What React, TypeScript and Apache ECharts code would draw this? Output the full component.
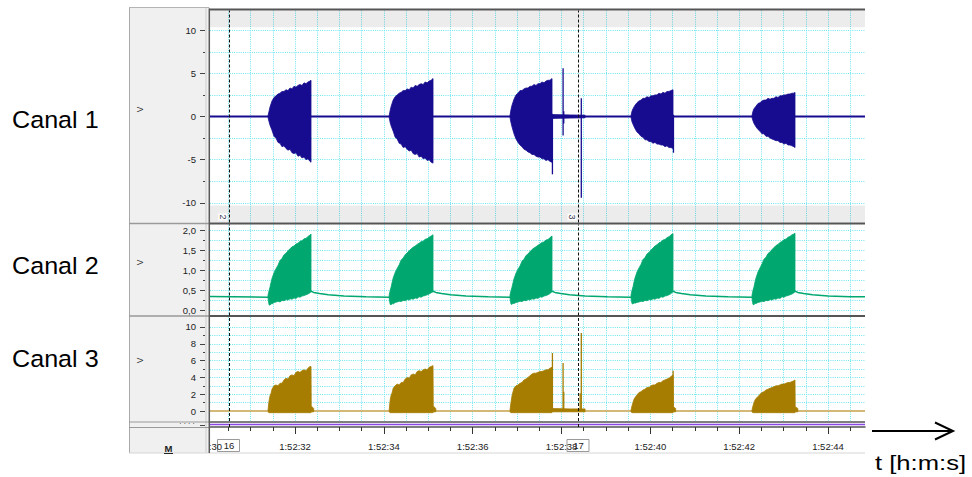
import React, { useEffect, useRef } from "react";
import * as echarts from "echarts";

// Time is counted in seconds after 1:52:00
const X_MIN = 30.086;
const X_MAX = 44.832;

const timeGridTicks = [
  30.5, 31, 31.5, 32, 32.5, 33, 33.5, 34, 34.5, 35, 35.5, 36, 36.5, 37, 37.5,
  38, 38.5, 39, 39.5, 40, 40.5, 41, 41.5, 42, 42.5, 43, 43.5, 44, 44.5,
];
const timeLabelTicks = [32, 34, 36, 38, 40, 42, 44];
const hiddenTimeLabel = 30;

// Event markers (dashed lines)
const markerTimes = [30.514, 38.382];
const markerNumbers = ["2", "3"];
const markerSeconds = ["16", "17"];

// ---- Canal 1 (V) ----
const c1Range = [-12.28, 12.28];
const c1GridValues = [-10, -7.5, -5, -2.5, 0, 2.5, 5, 7.5, 10];
const c1LabelValues = [-10, -5, 0, 5, 10];
const c1OutOfRange = [
  [10.35, 12.28],
  [-12.28, -10.3],
];
const c1Baseline = [
  [X_MIN, 0],
  [X_MAX, 0],
];
// bursts as [t, low, high]
const c1Burst1 = [
  [31.392, -0.1, 0.1], [31.415, -0.6, 0.6], [31.437, -1.0, 1.1], [31.482, -1.6, 1.8],
  [31.527, -2.3, 2.2], [31.572, -2.5, 2.4], [31.617, -3.0, 2.6], [31.662, -3.1, 2.7],
  [31.707, -3.5, 2.9], [31.752, -3.4, 2.9], [31.797, -3.7, 3.1], [31.842, -3.9, 3.0],
  [31.887, -3.8, 3.3], [31.932, -4.2, 3.2], [31.977, -4.3, 3.5], [32.022, -4.2, 3.4],
  [32.067, -4.6, 3.6], [32.112, -4.5, 3.7], [32.157, -4.8, 3.6], [32.202, -4.7, 3.9],
  [32.247, -5.0, 3.8], [32.292, -4.9, 4.0], [32.337, -5.2, 4.1], [32.36, -5.3, 4.2],
];
const c1Burst2 = [
  [34.12, -0.1, 0.1], [34.142, -0.7, 0.7], [34.165, -1.1, 1.2], [34.21, -1.7, 1.9],
  [34.255, -2.4, 2.3], [34.3, -2.6, 2.5], [34.345, -3.1, 2.7], [34.39, -3.2, 2.8],
  [34.435, -3.6, 3.0], [34.48, -3.5, 3.0], [34.525, -3.8, 3.2], [34.57, -4.0, 3.1],
  [34.615, -3.9, 3.4], [34.66, -4.3, 3.3], [34.705, -4.4, 3.6], [34.75, -4.3, 3.5],
  [34.795, -4.7, 3.7], [34.84, -4.6, 3.8], [34.885, -4.9, 3.7], [34.93, -4.8, 4.0],
  [34.975, -5.1, 3.9], [35.02, -5.0, 4.1], [35.065, -5.3, 4.2], [35.107, -5.4, 4.4],
];
const c1Burst3 = [
  [36.84, -0.1, 0.1], [36.862, -0.7, 0.8], [36.885, -1.2, 1.3], [36.93, -2.0, 2.0],
  [36.975, -2.6, 2.5], [37.02, -3.0, 2.7], [37.065, -3.3, 3.0], [37.11, -3.5, 3.0],
  [37.155, -3.8, 3.2], [37.2, -3.9, 3.3], [37.245, -4.1, 3.3], [37.29, -4.2, 3.5],
  [37.335, -4.4, 3.5], [37.38, -4.4, 3.7], [37.425, -4.6, 3.6], [37.47, -4.7, 3.8],
  [37.515, -4.7, 3.8], [37.56, -4.9, 4.0], [37.605, -4.9, 3.9], [37.65, -5.1, 4.1],
  [37.695, -5.0, 4.2], [37.74, -5.2, 4.2], [37.786, -5.3, 4.4],
];
const c1Burst4 = [
  [39.564, -0.1, 0.1], [39.586, -0.6, 0.6], [39.609, -0.9, 0.9], [39.654, -1.4, 1.3],
  [39.699, -1.8, 1.6], [39.744, -2.0, 1.8], [39.789, -2.3, 1.9], [39.834, -2.4, 2.1],
  [39.879, -2.7, 2.1], [39.924, -2.7, 2.3], [39.969, -2.9, 2.2], [40.014, -2.9, 2.4],
  [40.059, -3.1, 2.4], [40.104, -3.0, 2.5], [40.149, -3.2, 2.5], [40.194, -3.2, 2.7],
  [40.239, -3.3, 2.6], [40.284, -3.3, 2.8], [40.329, -3.5, 2.7], [40.374, -3.4, 2.9],
  [40.419, -3.6, 2.9], [40.464, -3.6, 3.0], [40.51, -3.7, 3.1],
];
const c1Burst5 = [
  [42.288, -0.1, 0.1], [42.31, -0.5, 0.6], [42.333, -0.8, 0.9], [42.378, -1.2, 1.2],
  [42.423, -1.5, 1.5], [42.468, -1.7, 1.6], [42.513, -2.0, 1.8], [42.558, -2.0, 1.9],
  [42.603, -2.3, 1.9], [42.648, -2.3, 2.1], [42.693, -2.5, 2.0], [42.738, -2.6, 2.1],
  [42.783, -2.7, 2.1], [42.828, -2.8, 2.3], [42.873, -2.8, 2.2], [42.918, -3.0, 2.4],
  [42.963, -3.0, 2.4], [43.008, -3.2, 2.5], [43.053, -3.1, 2.5], [43.098, -3.3, 2.6],
  [43.143, -3.3, 2.6], [43.188, -3.4, 2.7], [43.233, -3.5, 2.7], [43.256, -3.6, 2.8],
];
const c1Ripple = [
  [37.8, -0.22, 0.22],
  [38.2, -0.18, 0.18],
  [38.53, -0.15, 0.15],
];
// single transients as [t, low, high]
const c1Spikes = [
  [37.795, -6.7, 0.3],
  [38.035, -2.2, 5.6],
  [38.05, -0.8, 0.6],
  [38.445, -9.4, 2.1],
  [40.52, -4.2, 0.2],
];

// ---- Canal 2 (V) ----
const c2Range = [-0.1375, 2.1375];
const c2GridValues = [0, 0.25, 0.5, 0.75, 1, 1.25, 1.5, 1.75, 2];
const c2LabelValues = [0, 0.5, 1, 1.5, 2];
const c2Baseline = [
  [X_MIN, 0.34], [31.392, 0.32],
  [32.36, 0.47], [32.42, 0.44], [32.55, 0.41], [32.75, 0.38], [33.1, 0.35], [33.6, 0.33], [34.12, 0.32],
  [35.107, 0.47], [35.17, 0.44], [35.3, 0.41], [35.5, 0.38], [35.85, 0.35], [36.35, 0.33], [36.84, 0.32],
  [37.786, 0.47], [37.85, 0.44], [37.98, 0.41], [38.18, 0.38], [38.53, 0.35], [39.03, 0.33], [39.564, 0.32],
  [40.51, 0.47], [40.57, 0.44], [40.7, 0.41], [40.9, 0.38], [41.25, 0.35], [41.75, 0.33], [42.288, 0.32],
  [43.256, 0.47], [43.32, 0.44], [43.45, 0.41], [43.65, 0.38], [44.0, 0.35], [44.5, 0.33], [X_MAX, 0.33],
];
const c2Burst1 = [
  [31.392, 0.3, 0.37], [31.415, 0.13, 0.48], [31.437, 0.12, 0.57], [31.46, 0.16, 0.69],
  [31.482, 0.15, 0.79], [31.527, 0.19, 0.93], [31.572, 0.2, 1.03], [31.617, 0.22, 1.12],
  [31.662, 0.2, 1.24], [31.707, 0.24, 1.29], [31.752, 0.23, 1.38], [31.797, 0.26, 1.42],
  [31.842, 0.25, 1.48], [31.887, 0.28, 1.53], [31.932, 0.27, 1.58], [31.977, 0.3, 1.6],
  [32.022, 0.29, 1.65], [32.067, 0.33, 1.67], [32.112, 0.32, 1.72], [32.157, 0.35, 1.73],
  [32.202, 0.36, 1.78], [32.247, 0.38, 1.79], [32.292, 0.4, 1.84], [32.337, 0.43, 1.87],
  [32.36, 0.46, 1.9],
];
const c2Burst2 = [
  [34.12, 0.3, 0.37], [34.142, 0.14, 0.49], [34.165, 0.13, 0.58], [34.188, 0.16, 0.7],
  [34.21, 0.15, 0.8], [34.255, 0.19, 0.94], [34.3, 0.2, 1.04], [34.345, 0.22, 1.13],
  [34.39, 0.21, 1.25], [34.435, 0.24, 1.3], [34.48, 0.23, 1.38], [34.525, 0.26, 1.43],
  [34.57, 0.25, 1.48], [34.615, 0.28, 1.53], [34.66, 0.27, 1.57], [34.705, 0.3, 1.6],
  [34.75, 0.29, 1.64], [34.795, 0.33, 1.67], [34.84, 0.32, 1.71], [34.885, 0.35, 1.72],
  [34.93, 0.36, 1.77], [34.975, 0.38, 1.78], [35.02, 0.4, 1.82], [35.065, 0.43, 1.85],
  [35.107, 0.46, 1.88],
];
const c2Burst3 = [
  [36.84, 0.3, 0.37], [36.862, 0.15, 0.48], [36.885, 0.14, 0.57], [36.908, 0.17, 0.68],
  [36.93, 0.16, 0.78], [36.975, 0.19, 0.92], [37.02, 0.2, 1.02], [37.065, 0.22, 1.1],
  [37.11, 0.21, 1.22], [37.155, 0.24, 1.27], [37.2, 0.23, 1.36], [37.245, 0.26, 1.4],
  [37.29, 0.25, 1.46], [37.335, 0.28, 1.51], [37.38, 0.27, 1.55], [37.425, 0.3, 1.58],
  [37.47, 0.29, 1.62], [37.515, 0.33, 1.65], [37.56, 0.32, 1.69], [37.605, 0.35, 1.7],
  [37.65, 0.36, 1.75], [37.695, 0.38, 1.76], [37.74, 0.41, 1.81], [37.786, 0.46, 1.85],
];
const c2Burst4 = [
  [39.564, 0.3, 0.37], [39.586, 0.16, 0.49], [39.609, 0.15, 0.58], [39.632, 0.18, 0.7],
  [39.654, 0.17, 0.8], [39.699, 0.19, 0.95], [39.744, 0.2, 1.05], [39.789, 0.22, 1.14],
  [39.834, 0.21, 1.26], [39.879, 0.24, 1.31], [39.924, 0.23, 1.4], [39.969, 0.26, 1.44],
  [40.014, 0.25, 1.5], [40.059, 0.28, 1.55], [40.104, 0.27, 1.6], [40.149, 0.3, 1.63],
  [40.194, 0.29, 1.68], [40.239, 0.33, 1.7], [40.284, 0.32, 1.75], [40.329, 0.35, 1.76],
  [40.374, 0.36, 1.81], [40.419, 0.38, 1.83], [40.464, 0.41, 1.88], [40.51, 0.46, 1.91],
];
const c2Burst5 = [
  [42.288, 0.3, 0.37], [42.31, 0.14, 0.49], [42.333, 0.13, 0.58], [42.356, 0.17, 0.7],
  [42.378, 0.16, 0.8], [42.423, 0.19, 0.95], [42.468, 0.2, 1.05], [42.513, 0.22, 1.15],
  [42.558, 0.21, 1.27], [42.603, 0.24, 1.32], [42.648, 0.23, 1.41], [42.693, 0.26, 1.45],
  [42.738, 0.25, 1.51], [42.783, 0.28, 1.56], [42.828, 0.27, 1.61], [42.873, 0.3, 1.64],
  [42.918, 0.29, 1.69], [42.963, 0.33, 1.71], [43.008, 0.32, 1.76], [43.053, 0.35, 1.77],
  [43.098, 0.36, 1.82], [43.143, 0.38, 1.84], [43.188, 0.4, 1.88], [43.233, 0.43, 1.9],
  [43.256, 0.46, 1.92],
];

// ---- Canal 3 (V) ----
const c3Range = [-1.19, 11.19];
const c3GridValues = [0, 1, 2, 3, 4, 5, 6, 7, 8, 9, 10];
const c3LabelValues = [0, 2, 4, 6, 8, 10];
const c3Baseline = [
  [X_MIN, 0],
  [X_MAX, 0],
];
const c3Burst1 = [
  [31.392, -0.1, 0.1], [31.415, -0.2, 1.2], [31.437, -0.2, 1.8], [31.46, -0.2, 2.1],
  [31.482, -0.2, 2.6], [31.527, -0.2, 3.0], [31.572, -0.2, 3.1], [31.617, -0.2, 3.0],
  [31.662, -0.2, 3.3], [31.707, -0.2, 3.3], [31.752, -0.2, 3.7], [31.797, -0.2, 3.9],
  [31.842, -0.2, 3.8], [31.887, -0.2, 4.2], [31.932, -0.2, 4.3], [31.977, -0.2, 4.2],
  [32.022, -0.2, 4.6], [32.067, -0.2, 4.7], [32.112, -0.2, 4.6], [32.157, -0.2, 4.8],
  [32.202, -0.2, 4.9], [32.247, -0.2, 4.8], [32.292, -0.2, 5.1], [32.337, -0.2, 5.3],
  [32.36, -0.2, 5.3], [32.365, -0.1, 0.6], [32.42, -0.1, 0.3],
];
const c3Burst2 = [
  [34.12, -0.1, 0.1], [34.142, -0.2, 1.3], [34.165, -0.2, 1.9], [34.188, -0.2, 2.2],
  [34.21, -0.2, 2.7], [34.255, -0.2, 3.0], [34.3, -0.2, 3.2], [34.345, -0.2, 3.1],
  [34.39, -0.2, 3.4], [34.435, -0.2, 3.4], [34.48, -0.2, 3.8], [34.525, -0.2, 4.0],
  [34.57, -0.2, 3.9], [34.615, -0.2, 4.3], [34.66, -0.2, 4.4], [34.705, -0.2, 4.3],
  [34.75, -0.2, 4.7], [34.795, -0.2, 4.8], [34.84, -0.2, 4.7], [34.885, -0.2, 4.9],
  [34.93, -0.2, 5.0], [34.975, -0.2, 4.9], [35.02, -0.2, 5.2], [35.065, -0.2, 5.3],
  [35.107, -0.2, 5.4], [35.112, -0.1, 0.6], [35.17, -0.1, 0.3],
];
const c3Burst3 = [
  [36.84, -0.1, 0.1], [36.862, -0.2, 1.0], [36.885, -0.2, 1.8], [36.908, -0.2, 2.3],
  [36.93, -0.2, 2.7], [36.975, -0.2, 3.0], [37.02, -0.2, 3.1], [37.065, -0.2, 3.3],
  [37.11, -0.2, 3.4], [37.155, -0.2, 3.7], [37.2, -0.2, 3.8], [37.245, -0.2, 4.0],
  [37.29, -0.2, 4.2], [37.335, -0.2, 4.4], [37.38, -0.2, 4.5], [37.425, -0.2, 4.5],
  [37.47, -0.2, 4.6], [37.515, -0.2, 4.7], [37.56, -0.2, 4.7], [37.605, -0.2, 4.8],
  [37.65, -0.2, 4.9], [37.695, -0.2, 4.9], [37.74, -0.2, 5.1], [37.786, -0.2, 5.2],
];
const c3Plateau = [
  [37.79, -0.1, 0.3],
  [38.2, -0.1, 0.25],
  [38.53, -0.1, 0.25],
];
const c3Burst4 = [
  [39.564, -0.1, 0.1], [39.586, -0.2, 0.6], [39.609, -0.2, 1.0], [39.632, -0.2, 1.4],
  [39.654, -0.2, 1.6], [39.699, -0.2, 1.9], [39.744, -0.2, 2.2], [39.789, -0.2, 2.3],
  [39.834, -0.2, 2.5], [39.879, -0.2, 2.6], [39.924, -0.2, 2.8], [39.969, -0.2, 2.8],
  [40.014, -0.2, 3.0], [40.059, -0.2, 3.1], [40.104, -0.2, 3.1], [40.149, -0.2, 3.3],
  [40.194, -0.2, 3.4], [40.239, -0.2, 3.4], [40.284, -0.2, 3.6], [40.329, -0.2, 3.7],
  [40.374, -0.2, 3.8], [40.419, -0.2, 3.9], [40.464, -0.2, 4.1], [40.51, -0.2, 4.3],
  [40.515, -0.1, 0.5], [40.57, -0.1, 0.3],
];
const c3Burst5 = [
  [42.288, -0.1, 0.1], [42.31, -0.2, 0.6], [42.333, -0.2, 1.0], [42.356, -0.2, 1.3],
  [42.378, -0.2, 1.5], [42.423, -0.2, 1.7], [42.468, -0.2, 2.0], [42.513, -0.2, 2.2],
  [42.558, -0.2, 2.3], [42.603, -0.2, 2.5], [42.648, -0.2, 2.6], [42.693, -0.2, 2.7],
  [42.738, -0.2, 2.8], [42.783, -0.2, 2.9], [42.828, -0.2, 3.0], [42.873, -0.2, 3.0],
  [42.918, -0.2, 3.1], [42.963, -0.2, 3.2], [43.008, -0.2, 3.2], [43.053, -0.2, 3.3],
  [43.098, -0.2, 3.4], [43.143, -0.2, 3.4], [43.188, -0.2, 3.5], [43.233, -0.2, 3.6],
  [43.256, -0.2, 3.7], [43.261, -0.1, 0.5], [43.32, -0.1, 0.3],
];
const c3Spikes = [
  [37.795, 0, 6.9],
  [38.035, 0, 5.7],
  [38.05, 0, 2.3],
  [38.42, 0, 2.1],
  [38.445, 0, 9.3],
  [40.512, 0, 4.8],
];

// ---- Canal 4 strip ----
const c4Baseline = [
  [X_MIN, 0.6],
  [X_MAX, 0.6],
];

const C1 = "#170c8f";
const C2 = "#00a870";
const C3 = "#a67d00";
const C3_BASE = "#d3b877";
const C4 = "#8b46e6";
const GRID_CYAN = "#6ee6f0";
const GRID_DASH = [1, 1.2];
const FONT = "Liberation Sans";
const PLOT_LEFT = 210;
const PLOT_WIDTH = 655;

const fmtTime = (v: number) => "1:52:" + String(Math.round(v)).padStart(2, "0");
const fmtInt = (v: number) => String(v);
const fmtComma = (v: number) => v.toFixed(1).replace(".", ",");

function bandSeries(shapes: number[][][], color: string, xi: number, yi: number) {
  return {
    type: "custom",
    xAxisIndex: xi,
    yAxisIndex: yi,
    silent: true,
    z: 21,
    data: shapes.map((s) => [s[0][0], s[0][1]]),
    renderItem: (params: any, api: any) => {
      const s = shapes[params.dataIndex];
      const top = s.map((p) => api.coord([p[0], p[2]]));
      const bottom = s.map((p) => api.coord([p[0], p[1]])).reverse();
      return {
        type: "polygon",
        shape: { points: top.concat(bottom) },
        style: { fill: color, stroke: color, lineWidth: 0.8 },
      };
    },
  };
}

function spikeSeries(spikes: number[][], color: string, xi: number, yi: number, width: number) {
  return {
    type: "custom",
    xAxisIndex: xi,
    yAxisIndex: yi,
    silent: true,
    z: 22,
    data: spikes.map((s) => [s[0], s[2]]),
    renderItem: (params: any, api: any) => {
      const s = spikes[params.dataIndex];
      const a = api.coord([s[0], s[1]]);
      const b = api.coord([s[0], s[2]]);
      return {
        type: "line",
        shape: { x1: a[0], y1: a[1], x2: b[0], y2: b[1] },
        style: { stroke: color, lineWidth: width },
      };
    },
  };
}

const markerLine = {
  silent: true,
  z: 30,
  symbol: ["none", "none"],
  label: { show: false },
  lineStyle: { color: "#111", width: 1, type: [3, 2] },
  data: markerTimes.map((t) => ({ xAxis: t })),
};

function lineSeries(data: number[][], color: string, width: number, xi: number, yi: number, extra: any = {}) {
  return {
    type: "line",
    xAxisIndex: xi,
    yAxisIndex: yi,
    data,
    showSymbol: false,
    symbol: "none",
    silent: true,
    z: 20,
    lineStyle: { color, width },
    ...extra,
  };
}

function panelX(gridIndex: number) {
  return {
    type: "value",
    gridIndex,
    min: X_MIN,
    max: X_MAX,
    position: "bottom",
    axisLine: { show: false },
    axisLabel: { show: false },
    axisTick: { show: false, customValues: timeGridTicks },
    splitLine: { show: true, lineStyle: { color: GRID_CYAN, width: 1, type: GRID_DASH } },
  };
}

function gridY(gridIndex: number, range: number[], values: number[]) {
  return {
    type: "value",
    gridIndex,
    min: range[0],
    max: range[1],
    position: "left",
    offset: 5,
    z: 10,
    axisLine: { show: false },
    axisLabel: { show: false },
    axisTick: { show: true, customValues: values, length: 2, lineStyle: { color: "#444", width: 1 } },
    splitLine: { show: true, lineStyle: { color: GRID_CYAN, width: 1, type: GRID_DASH } },
  };
}

function labelY(gridIndex: number, range: number[], values: number[], fmt: (v: number) => string) {
  return {
    type: "value",
    gridIndex,
    min: range[0],
    max: range[1],
    position: "left",
    offset: 5,
    z: 10,
    axisLine: { show: false },
    axisTick: { show: true, customValues: values, length: 5, lineStyle: { color: "#444", width: 1 } },
    axisLabel: {
      show: true,
      customValues: values,
      formatter: fmt,
      margin: 9,
      fontSize: 9.5,
      fontFamily: FONT,
      color: "#222",
    },
    splitLine: { show: false },
  };
}

function seg(x1: number, y1: number, x2: number, y2: number, stroke: string, lineWidth: number, z: number) {
  return { type: "line", z, silent: true, shape: { x1, y1, x2, y2 }, style: { stroke, lineWidth } };
}

function button(x: number, y: number, kind: string) {
  const children: any[] = [
    {
      type: "rect",
      shape: { x, y, width: 11, height: 10, r: 2 },
      style: { fill: "#e6e6e6", stroke: "#8c8c8c", lineWidth: 1 },
    },
  ];
  if (kind === "down") {
    children.push({
      type: "polygon",
      shape: { points: [[x + 3, y + 3.5], [x + 8, y + 3.5], [x + 5.5, y + 6.5]] },
      style: { fill: "#111" },
    });
  } else {
    children.push({
      type: "line",
      shape: { x1: x + 2.5, y1: y + 5, x2: x + 8.5, y2: y + 5 },
      style: { stroke: "#111", lineWidth: 1.6 },
    });
    if (kind === "plus") {
      children.push({
        type: "line",
        shape: { x1: x + 5.5, y1: y + 2, x2: x + 5.5, y2: y + 8 },
        style: { stroke: "#111", lineWidth: 1.6 },
      });
    }
  }
  return { type: "group", z: 8, silent: true, children };
}

function text(x: number, y: number, str: string, size: number, z: number, extra: any = {}, style: any = {}) {
  return {
    type: "text",
    x,
    y,
    z,
    silent: true,
    ...extra,
    style: {
      text: str,
      fontSize: size,
      fontFamily: FONT,
      fill: "#000",
      align: "left",
      verticalAlign: "middle",
      ...style,
    },
  };
}

function staticGraphics() {
  const els: any[] = [];
  // channel control column
  els.push({ type: "rect", z: 5, silent: true, shape: { x: 129, y: 7, width: 81, height: 446 }, style: { fill: "#f0f0f0" } });
  els.push(seg(129.5, 7, 129.5, 453, "#a8a8a8", 1, 6));
  els.push(seg(129, 7.5, 209, 7.5, "#b4b4b4", 1, 6));
  els.push(seg(206, 8, 206, 453, "#cdcdcd", 1, 6));
  // channel separators
  els.push(seg(209, 9.5, 865, 9.5, "#555", 2, 25));
  [223.5, 316].forEach((y) => {
    els.push(seg(129, y, 209, y, "#9a9a9a", 1.5, 6));
    els.push(seg(209, y, 865, y, "#555", 2, 25));
  });
  els.push(seg(129, 422, 209, 422, "#9a9a9a", 1, 6));
  els.push(seg(209, 422, 865, 422, "#555", 1.5, 25));
  els.push(seg(129, 427.5, 209, 427.5, "#9a9a9a", 1, 6));
  els.push(seg(129, 453, 865, 453, "#d6d6d6", 1, 6));
  els.push(seg(209.3, 8.5, 209.3, 453, "#5a5a5a", 1.5, 25));

  // scale buttons
  [
    [13, "down"], [193, "plus"], [207, "minus"],
    [229, "down"], [284.5, "plus"], [298, "minus"],
    [321.5, "down"], [390, "plus"], [404.5, "minus"],
  ].forEach(([y, k]) => els.push(button(134, y as number, k as string)));

  // unit labels (rotated)
  [109.5, 262.5, 360.5].forEach((y) =>
    els.push(text(139.5, y, "V", 8.5, 8, { rotation: Math.PI / 2 }, { align: "center", fill: "#222" }))
  );
  els.push(text(187, 421.5, ". . . .", 8, 8, {}, { align: "center", fill: "#333" }));
  els.push(text(168.5, 448.5, "M", 9.5, 8, {}, { align: "center", fontWeight: "bold", fill: "#222" }));
  els.push(seg(164, 453.5, 173, 453.5, "#222", 1, 8));

  // channel names
  els.push(text(12, 119.5, "Canal 1", 23.5, 8, { scaleX: 1.07 }));
  els.push(text(12, 265.5, "Canal 2", 23.5, 8, { scaleX: 1.07 }));
  els.push(text(12, 358.5, "Canal 3", 23.5, 8, { scaleX: 1.07 }));

  // time arrow
  els.push(seg(872, 431, 952, 431, "#000", 2, 8));
  els.push({
    type: "polyline",
    z: 8,
    silent: true,
    shape: { points: [[935, 422.5], [953, 431], [935, 439.5]] },
    style: { stroke: "#000", lineWidth: 2, fill: null },
  });
  els.push(text(875, 463, "t [h:m:s]", 21, 8, { scaleX: 1.22 }));
  return els;
}

function markerGraphics(px: (t: number) => number) {
  const els: any[] = [];
  els.push(
    text(px(hiddenTimeLabel), 446.5, fmtTime(hiddenTimeLabel), 9.5, 1, {}, { align: "center", fill: "#222" })
  );
  markerTimes.forEach((t, i) => {
    const x = px(t);
    els.push(
      text(x - 6.5, 217, markerNumbers[i], 9, 40, { rotation: -Math.PI / 2 }, {
        align: "center",
        fill: "#3a3a55",
        backgroundColor: "rgba(255,255,255,0.85)",
        padding: [0, 1],
      })
    );
    els.push({
      type: "group",
      z: 40,
      silent: true,
      children: [
        {
          type: "rect",
          shape: { x: x - 11.5, y: 439.5, width: 22, height: 12 },
          style: { fill: "#fff", stroke: "#9a9a9a", lineWidth: 1 },
        },
        {
          type: "text",
          x,
          y: 445.8,
          style: {
            text: markerSeconds[i],
            fontSize: 9.5,
            fontFamily: FONT,
            fill: "#222",
            align: "center",
            verticalAlign: "middle",
          },
        },
      ],
    });
  });
  return els;
}

function buildOption(extra: any[]) {
  const grid = (top: number, height: number) => ({
    left: PLOT_LEFT,
    width: PLOT_WIDTH,
    top,
    height,
    show: false,
    containLabel: false,
    outerBoundsMode: "none",
  });
  return {
    animation: false,
    backgroundColor: "#fff",
    grid: [grid(10.5, 212), grid(224.5, 91), grid(317, 104), grid(423, 4)],
    xAxis: [
      panelX(0),
      panelX(1),
      panelX(2),
      {
        type: "value",
        gridIndex: 3,
        min: X_MIN,
        max: X_MAX,
        position: "bottom",
        axisLine: { show: true, lineStyle: { color: "#555", width: 1.5 } },
        axisTick: { show: true, customValues: timeGridTicks, length: 4, lineStyle: { color: "#333" } },
        axisLabel: { show: false },
        splitLine: { show: false },
      },
      {
        type: "value",
        gridIndex: 3,
        min: X_MIN,
        max: X_MAX,
        position: "bottom",
        axisLine: { show: false },
        axisTick: { show: true, customValues: timeLabelTicks, length: 7, lineStyle: { color: "#333" } },
        axisLabel: {
          show: true,
          customValues: timeLabelTicks,
          formatter: fmtTime,
          margin: 14,
          fontSize: 9.5,
          fontFamily: FONT,
          color: "#222",
        },
        splitLine: { show: false },
      },
    ],
    yAxis: [
      gridY(0, c1Range, c1GridValues),
      labelY(0, c1Range, c1LabelValues, fmtInt),
      gridY(1, c2Range, c2GridValues),
      labelY(1, c2Range, c2LabelValues, fmtComma),
      gridY(2, c3Range, c3GridValues),
      labelY(2, c3Range, c3LabelValues, fmtInt),
      {
        type: "value",
        gridIndex: 3,
        min: 0,
        max: 1,
        position: "left",
        offset: 5,
        z: 10,
        axisLine: { show: false },
        axisLabel: { show: false },
        axisTick: { show: true, customValues: [0.5], length: 5, lineStyle: { color: "#444" } },
        splitLine: { show: false },
      },
    ],
    graphic: { elements: staticGraphics().concat(extra) },
    series: [
      lineSeries(c1Baseline, C1, 2, 0, 0, {
        markLine: markerLine,
        markArea: {
          silent: true,
          z: 15,
          itemStyle: { color: "rgba(0,0,0,0.075)" },
          data: c1OutOfRange.map((r) => [{ yAxis: r[0] }, { yAxis: r[1] }]),
        },
      }),
      bandSeries([c1Burst1, c1Burst2, c1Burst3, c1Burst4, c1Burst5, c1Ripple], C1, 0, 0),
      spikeSeries(c1Spikes, C1, 0, 0, 1.3),
      lineSeries(c2Baseline, C2, 1.5, 1, 2, { markLine: markerLine }),
      bandSeries([c2Burst1, c2Burst2, c2Burst3, c2Burst4, c2Burst5], C2, 1, 2),
      lineSeries(c3Baseline, C3_BASE, 2, 2, 4, { markLine: markerLine }),
      bandSeries([c3Burst1, c3Burst2, c3Burst3, c3Plateau, c3Burst4, c3Burst5], C3, 2, 4),
      spikeSeries(c3Spikes, C3, 2, 4, 1.3),
      lineSeries(c4Baseline, C4, 1.5, 3, 6, { markLine: markerLine }),
    ],
  };
}

export default function App() {
  const ref = useRef<HTMLDivElement>(null);
  useEffect(() => {
    if (!ref.current) return;
    const chart = echarts.init(ref.current, null, { renderer: "svg" });
    chart.setOption(buildOption([]) as any);
    const px = (t: number) => chart.convertToPixel({ xAxisIndex: 3 }, t) as unknown as number;
    chart.setOption(buildOption(markerGraphics(px)) as any, { notMerge: true });
    return () => chart.dispose();
  }, []);
  return (
    <div
      ref={ref}
      style={{ position: "absolute", left: 0, top: 0, width: 972, height: 477 }}
    />
  );
}
